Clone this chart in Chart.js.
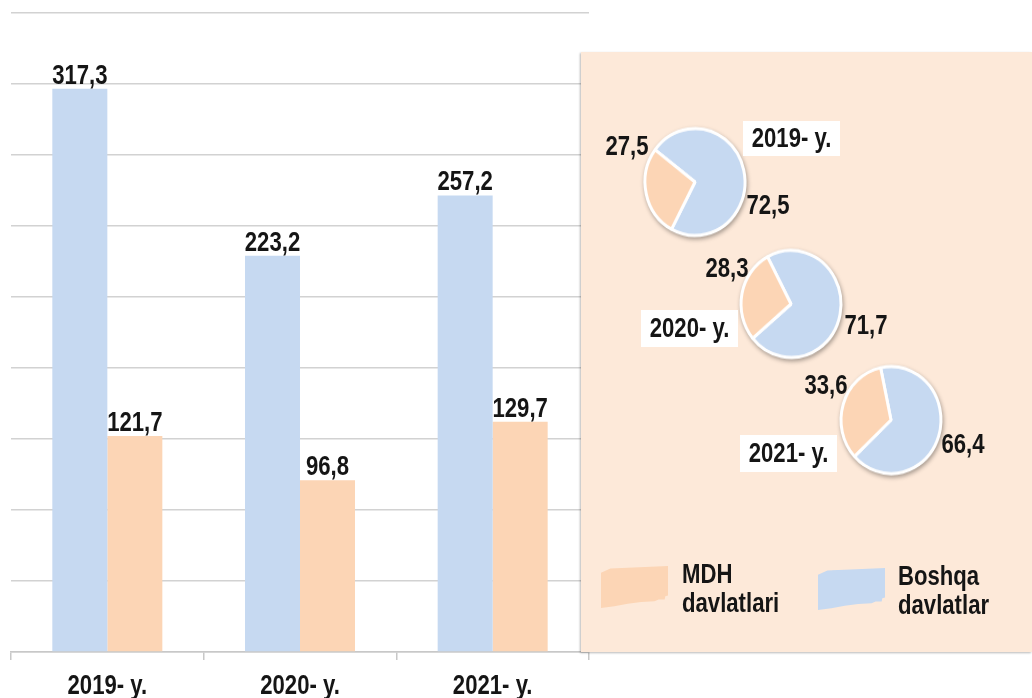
<!DOCTYPE html>
<html>
<head>
<meta charset="utf-8">
<script src="https://cdn.jsdelivr.net/npm/chart.js@4.4.1/dist/chart.umd.min.js"></script>
<style>
  html, body { margin:0; padding:0; background:#fff; }
  body { width:1032px; height:698px; overflow:hidden; position:relative;
         font-family:'Liberation Sans',Arial,sans-serif; }
  #barWrap { position:absolute; left:0; top:0; width:1032px; height:698px; }
  #panel { position:absolute; left:581px; top:52px; width:451px; height:600px; background:#FDE9D9;
           box-shadow:-1px 1px 2px rgba(0,0,0,0.28); }
  .pie { position:absolute; width:120px; height:120px; filter:drop-shadow(1px 2px 2px rgba(0,0,0,0.35)); }
  .lbl { position:absolute; font-weight:bold; font-size:27px; color:#151515; white-space:nowrap;
         transform:translate(-50%,-50%) scaleX(0.82); line-height:1; }
  .box { position:absolute; background:#fff; font-weight:bold; font-size:27px; color:#151515;
         display:flex; align-items:center; justify-content:center; white-space:nowrap; line-height:1; }
  .box span { display:inline-block; transform:scaleX(0.82); }
  .sw { position:absolute; width:67px; height:42px;
        clip-path:polygon(0% 16%, 14% 6%, 40% 4%, 100% 0%, 100% 70%, 96% 72%, 95% 80%, 86% 80%, 80% 84%, 60% 86%, 40% 90%, 20% 96%, 0% 100%); }
  .leg { position:absolute; font-weight:bold; font-size:27px; color:#151515; line-height:29px; white-space:nowrap;
         transform:scaleX(0.82); transform-origin:0 0; }
</style>
</head>
<body>
<div id="barWrap"><canvas id="bar" width="1032" height="698"></canvas></div>
<div id="panel"></div>
<script>
// ---- data ----
const categories = ['2019- y.', '2020- y.', '2021- y.'];
const otherValues = [317.3, 223.2, 257.2];   // Boshqa davlatlar
const mdhValues = [121.7, 96.8, 129.7];      // MDH davlatlari
const mdhShare = [27.5, 28.3, 33.6];
const otherShare = [72.5, 71.7, 66.4];
const seriesNames = ['MDH davlatlari', 'Boshqa davlatlar'];
const yTicksMax = 360;
const yTickStep = 40;

// ---- styles ----
const FONT = "'Liberation Sans',Arial,sans-serif";
const NARROW = 0.82;
const BLUE = '#C6D9F1';
const PEACH = '#FCD5B5';
const TXT = '#151515';
const fmt = v => v.toFixed(1).replace('.', ',');

function narrowText(ctx, text, x, y) {
  ctx.save();
  ctx.translate(x, y);
  ctx.scale(NARROW, 1);
  ctx.fillText(text, 0, 0);
  ctx.restore();
}

const labelPlugin = {
  id: 'labels',
  afterDraw(chart) {
    const ctx = chart.ctx;
    ctx.save();
    ctx.font = 'bold 27px ' + FONT;
    ctx.fillStyle = TXT;
    ctx.textAlign = 'center';
    ctx.textBaseline = 'alphabetic';
    chart.data.datasets.forEach((ds, di) => {
      chart.getDatasetMeta(di).data.forEach((el, i) => {
        narrowText(ctx, fmt(ds.data[i]), el.x, el.y - 5);
      });
    });
    const xs = chart.scales.x;
    chart.data.labels.forEach((lab, i) => {
      narrowText(ctx, lab, xs.getPixelForValue(i), xs.top + 42);
    });
    ctx.restore();
  }
};

new Chart(document.getElementById('bar'), {
  type: 'bar',
  data: {
    labels: categories,
    datasets: [
      { label: seriesNames[1], data: otherValues, backgroundColor: BLUE, borderWidth: 0,
        categoryPercentage: 0.571, barPercentage: 1.0 },
      { label: seriesNames[0], data: mdhValues, backgroundColor: PEACH, borderWidth: 0,
        categoryPercentage: 0.571, barPercentage: 1.0 }
    ]
  },
  options: {
    responsive: false,
    animation: false,
    layout: { padding: { left: 11, right: 443, top: 13, bottom: 0 } },
    plugins: { legend: { display: false }, tooltip: { enabled: false } },
    scales: {
      x: {
        grid: { drawOnChartArea: false, drawTicks: true, tickLength: 8, color: '#c8c8c8', lineWidth: 1.5, offset: true },
        border: { display: true, color: '#c8c8c8', width: 1.5 },
        ticks: { display: false },
        afterFit(s) { s.height = 46; }
      },
      y: {
        min: 0, max: yTicksMax,
        ticks: { display: false, stepSize: yTickStep },
        grid: { color: '#d2d2d2', lineWidth: 1.5, drawTicks: false },
        border: { display: false },
        afterFit(s) { s.width = 0; }
      }
    }
  },
  plugins: [labelPlugin]
});

// ---- pies (layout only) ----
const pieLayout = [
  { cx: 695, cy: 182, rot: -53, mdhLbl: [627, 146], othLbl: [768, 205], box: [743, 121, 97, 35] },
  { cx: 791, cy: 304, rot: -28, mdhLbl: [727, 268], othLbl: [866, 325], box: [641, 310, 97, 37] },
  { cx: 891, cy: 420, rot: -12, mdhLbl: [826, 385], othLbl: [963, 444], box: [740, 435, 97, 37] }
];
function addDiv(cls, text, style) {
  const d = document.createElement('div');
  d.className = cls;
  d.textContent = text;
  Object.assign(d.style, style);
  document.body.appendChild(d);
  return d;
}
pieLayout.forEach((p, i) => {
  const c = document.createElement('canvas');
  c.width = 120; c.height = 120;
  c.className = 'pie';
  c.style.left = (p.cx - 60) + 'px';
  c.style.top = (p.cy - 60) + 'px';
  c.style.transform = 'scaleY(1.07)';
  document.body.appendChild(c);
  new Chart(c, {
    type: 'pie',
    data: {
      labels: [seriesNames[1], seriesNames[0]],
      datasets: [{ data: [otherShare[i], mdhShare[i]], backgroundColor: [BLUE, PEACH],
                   borderColor: '#ffffff', borderWidth: 3, radius: 50 }]
    },
    options: {
      responsive: false, animation: false, rotation: p.rot,
      layout: { padding: 0 },
      plugins: { legend: { display: false }, tooltip: { enabled: false } }
    }
  });
  addDiv('lbl', fmt(mdhShare[i]), { left: p.mdhLbl[0] + 'px', top: p.mdhLbl[1] + 'px' });
  addDiv('lbl', fmt(otherShare[i]), { left: p.othLbl[0] + 'px', top: p.othLbl[1] + 'px' });
  const b = addDiv('box', '', { left: p.box[0] + 'px', top: p.box[1] + 'px', width: p.box[2] + 'px', height: p.box[3] + 'px' });
  const s = document.createElement('span');
  s.textContent = categories[i];
  b.appendChild(s);
});

// ---- legend ----
addDiv('sw', '', { left: '601px', top: '566px', background: PEACH });
addDiv('sw', '', { left: '818px', top: '568px', background: BLUE });
const l1 = addDiv('leg', '', { left: '682px', top: '560px' });
seriesNames[0].split(' ').forEach((w, k) => { if (k) l1.appendChild(document.createElement('br')); l1.appendChild(document.createTextNode(w)); });
const l2 = addDiv('leg', '', { left: '898px', top: '562px' });
seriesNames[1].split(' ').forEach((w, k) => { if (k) l2.appendChild(document.createElement('br')); l2.appendChild(document.createTextNode(w)); });
</script>
</body>
</html>
